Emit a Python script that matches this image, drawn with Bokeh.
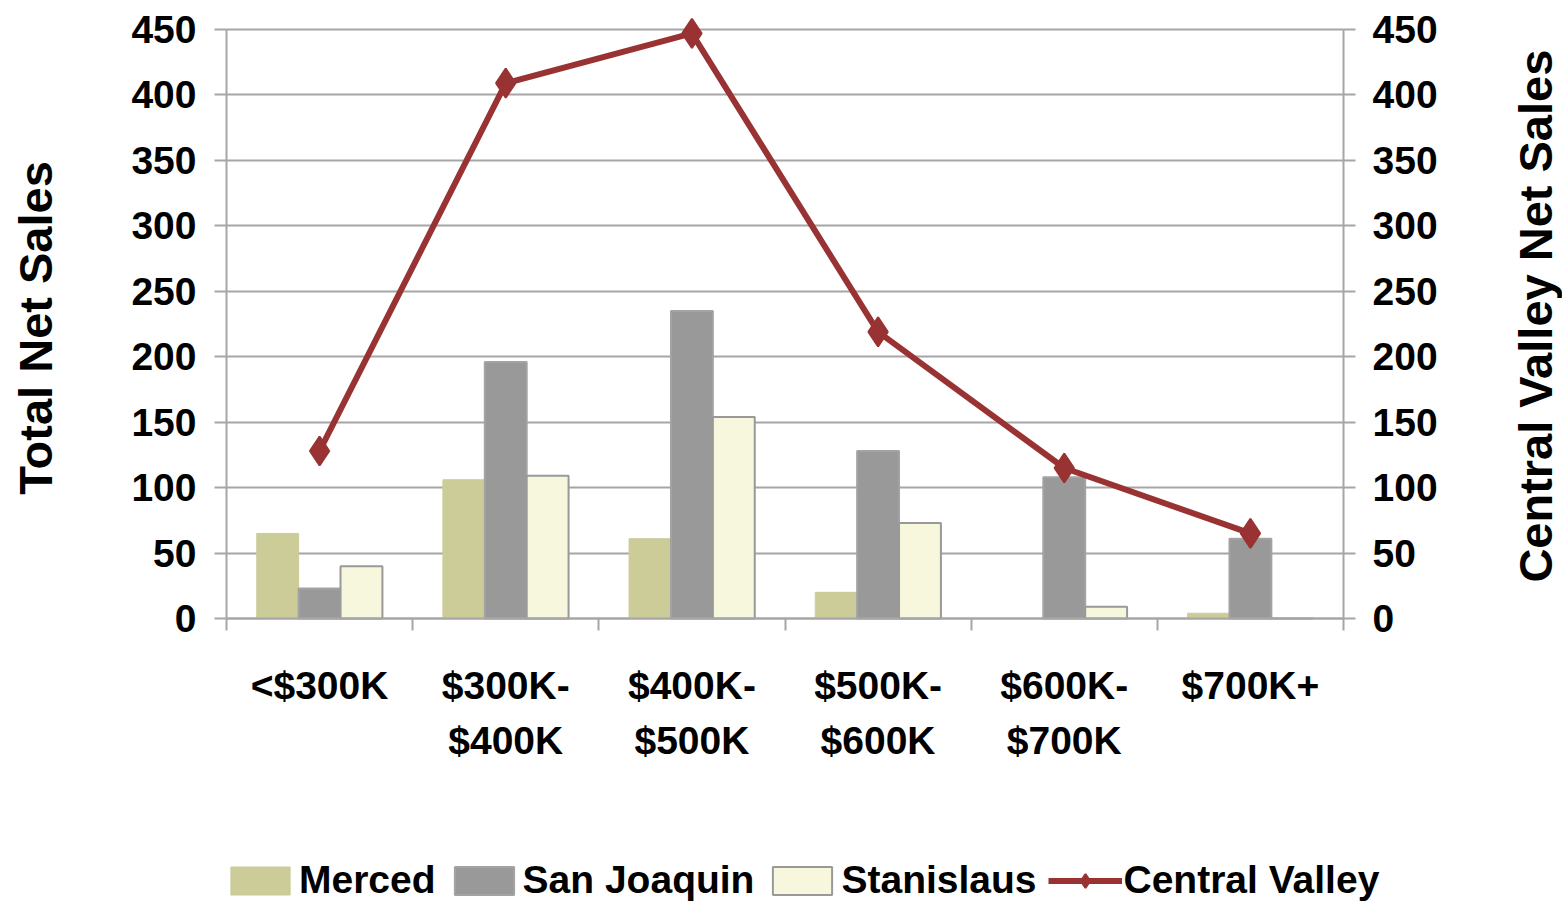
import numpy as np
from bokeh.plotting import figure
from bokeh.models import Range1d, LinearAxis, FixedTicker, Legend, LegendItem, Label
from bokeh.embed import file_html
from bokeh.resources import INLINE

categories = ["<$300K", "$300K-\n$400K", "$400K-\n$500K", "$500K-\n$600K", "$600K-\n$700K", "$700K+"]
merced = [65, 106, 61, 20, 0, 4]
san_joaquin = [23, 196, 235, 128, 108, 61]
stanislaus = [40, 109, 154, 73, 9, 0]
central_valley = [128, 409, 447, 219, 115, 65]
y_ticks = [0, 50, 100, 150, 200, 250, 300, 350, 400, 450]
left_title = "Total Net Sales"
right_title = "Central Valley Net Sales"

FONT = "Liberation Sans"
FS = "39px"
TITLE_FS = "47px"
GRID = "#A6A6A6"

W, H = 1562, 904
n = len(categories)
centers = np.arange(n) + 0.5
bounds_x = list(np.arange(n + 1).astype(float))
bw = 0.225

# plot area: x from 226 to 1343 px, value 0 at 618 px and 450 at 29 px;
# the frame covers the whole canvas so axes, titles and legend live inside it
PX_X = (1343 - 226) / n
PX_Y = (618 - 29) / 450
X0, X1 = -226 / PX_X, n + (W - 1343) / PX_X
Y0, Y1 = -(H - 618) / PX_Y, 618 / PX_Y

p = figure(width=W, height=H, output_backend="svg", toolbar_location=None,
           x_range=Range1d(X0, X1), y_range=Range1d(Y0, Y1),
           min_border=0, min_border_left=0, min_border_right=0,
           min_border_top=0, min_border_bottom=0)
p.extra_y_ranges = {"cv": Range1d(Y0, Y1)}
p.outline_line_color = None
p.background_fill_color = "white"
p.border_fill_color = "white"

# horizontal grid lines, only across the plot area
p.xgrid.visible = False
try:
    p.ygrid.cross_bounds = (0, n)
    p.ygrid.ticker = FixedTicker(ticks=y_ticks)
    p.ygrid.grid_line_color = GRID
    p.ygrid.grid_line_width = 2
except Exception:
    p.ygrid.visible = False
    p.segment(x0=0, x1=n, y0=y_ticks, y1=y_ticks, line_color=GRID, line_width=2)

# bars
r_m = p.vbar(x=centers - bw, top=merced, width=bw, fill_color="#CCCC99", line_color="#CCCC99", line_width=1)
r_s = p.vbar(x=centers, top=san_joaquin, width=bw, fill_color="#999999", line_color="#A3A3A3", line_width=2)
r_t = p.vbar(x=centers + bw, top=stanislaus, width=bw, fill_color="#F7F7DE", line_color="#999999", line_width=2)

# line
r_l = p.line(x=centers, y=central_valley, y_range_name="cv", line_color="#993333", line_width=6)
r_d = p.scatter(x=centers, y=central_valley, y_range_name="cv", marker="diamond", size=29,
                fill_color="#993333", line_color="#993333", line_width=2)

def style_y(ax, standoff):
    ax.ticker = FixedTicker(ticks=y_ticks)
    ax.bounds = (0, 450)
    ax.axis_line_color = GRID
    ax.axis_line_width = 2
    ax.major_tick_line_color = GRID
    ax.major_tick_line_width = 2
    ax.major_tick_in = 0
    ax.major_tick_out = 12
    ax.minor_tick_line_color = None
    ax.major_label_text_font = FONT
    ax.major_label_text_font_style = "bold"
    ax.major_label_text_font_size = FS
    ax.major_label_text_color = "black"
    ax.major_label_standoff = standoff

yl = p.yaxis[0]
yl.fixed_location = 0
style_y(yl, 18)

yr = LinearAxis(y_range_name="cv", fixed_location=n)
style_y(yr, 17)
p.add_layout(yr, "right")

xa = p.xaxis[0]
xa.fixed_location = 0
xa.bounds = (0, n)
xa.ticker = FixedTicker(ticks=list(centers), minor_ticks=bounds_x)
xa.major_label_overrides = {float(c): lab for c, lab in zip(centers, categories)}
xa.axis_line_color = GRID
xa.axis_line_width = 2
xa.major_tick_line_color = None
xa.major_tick_in = 0
xa.major_tick_out = 0
xa.minor_tick_line_color = GRID
xa.minor_tick_line_width = 2
xa.minor_tick_in = 0
xa.minor_tick_out = 12
xa.major_label_text_font = FONT
xa.major_label_text_font_style = "bold"
xa.major_label_text_font_size = FS
xa.major_label_text_line_height = 1.3
xa.major_label_text_color = "black"
xa.major_label_standoff = 33

# axis titles (read bottom to top on both sides)
for txt, sx, vy in [(left_title, 35, 222), (right_title, 1535, 231)]:
    p.add_layout(Label(text=txt, x=sx, x_units="screen", y=vy, y_units="data",
                       angle=np.pi / 2, text_align="center", text_baseline="middle",
                       text_font=FONT, text_font_style="bold", text_font_size=TITLE_FS,
                       text_color="black"))

legend = Legend(items=[
    LegendItem(label="Merced", renderers=[r_m]),
    LegendItem(label="San Joaquin", renderers=[r_s]),
    LegendItem(label="Stanislaus", renderers=[r_t]),
    LegendItem(label="Central Valley", renderers=[r_l, r_d]),
], orientation="horizontal", location=(223, 2))
legend.glyph_width = 74
legend.glyph_height = 35
legend.label_standoff = 2
legend.spacing = 11
legend.padding = 0
legend.margin = 0
legend.border_line_color = None
legend.background_fill_alpha = 0
legend.label_text_font = FONT
legend.label_text_font_style = "bold"
legend.label_text_font_size = FS
legend.label_text_color = "black"
p.add_layout(legend)

open("out.html", "w").write(file_html(p, INLINE))
